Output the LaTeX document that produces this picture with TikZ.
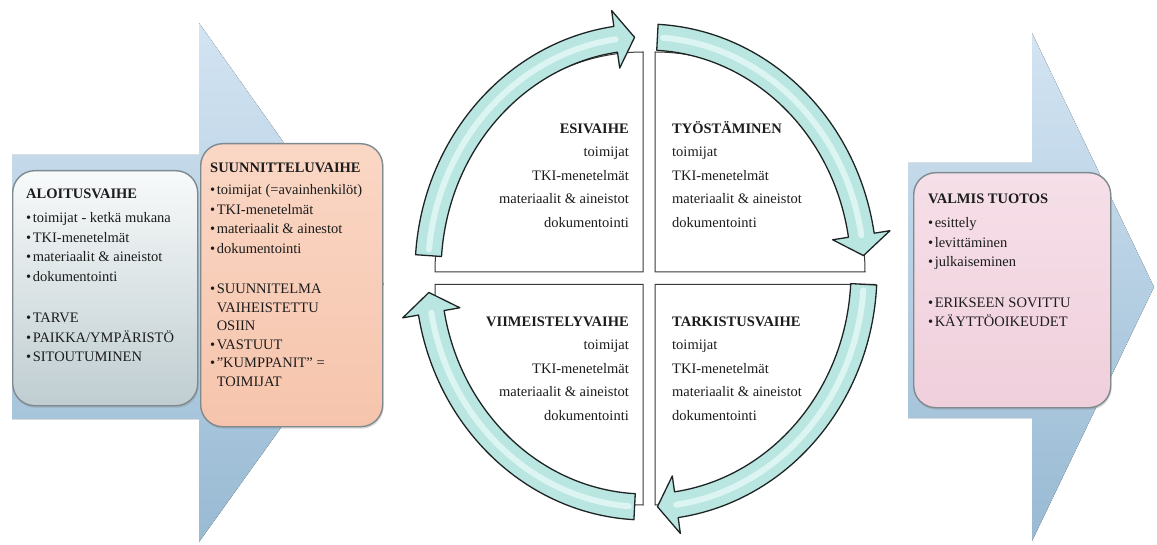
\documentclass[tikz,border=0pt]{standalone}
\usepackage{fontspec}
\setmainfont{Liberation Serif}
\usepackage{tikz}
\usetikzlibrary{shadows}

\definecolor{arrowtop}{HTML}{D3E4F2}
\definecolor{arrowbot}{HTML}{98BAD3}
\definecolor{boxline}{HTML}{7E8A8E}
\definecolor{alotop}{HTML}{F8FAFA}
\definecolor{alobot}{HTML}{BFCDD1}
\definecolor{suutop}{HTML}{FAD7C5}
\definecolor{suubot}{HTML}{F6C4AC}
\definecolor{valtop}{HTML}{F6DFE8}
\definecolor{valbot}{HTML}{EFCFDB}
\definecolor{cycfill}{HTML}{B9E6E1}
\definecolor{cyclight}{HTML}{DDF5F2}
\definecolor{cycline}{HTML}{1E2424}
\definecolor{quadline}{HTML}{3A3A3A}
\definecolor{textcol}{HTML}{1C1C1C}

\newcommand{\itemdot}{\textbullet\hspace{1.5pt}}
\newcommand{\itemgap}{\hphantom{\itemdot}}
\newcommand{\lineprop}{\rule{0pt}{13pt}}
% circular arrow: #1 tail angle, #2 tip angle (clockwise)
\newcommand{\cycarrow}[2]{%
  \pgfmathsetmacro{\hb}{#2+5}%
  \pgfmathsetmacro{\ta}{#1-1.5}%
  \draw[cyc] (#1:231 and 248) arc[start angle=#1, end angle=\hb, x radius=231pt, y radius=248pt]
    -- (\hb:247 and 264) -- (#2:218 and 235) -- (\hb:189 and 206)
    -- (\hb:205 and 222) arc[start angle=\hb, end angle=#1, x radius=205pt, y radius=222pt] -- cycle;
  \draw[cychl] (\ta:218 and 235) arc[start angle=\ta, end angle=\hb, x radius=218pt, y radius=235pt];}

\begin{document}
\begin{tikzpicture}[x=1pt,y=1pt]
  \tikzstyle{bigarrow} = [draw=none, top color=arrowtop, bottom color=arrowbot]
  \tikzstyle{phase} = [rounded corners=22pt, draw=boxline, line width=1.4pt, anchor=north west, drop shadow={shadow xshift=1pt, shadow yshift=-2pt, opacity=0.3}]
  \tikzstyle{txt} = [inner sep=0pt, align=left, anchor=north west, text=textcol, font=\fontsize{14.5}{19.5}\selectfont]
  \tikzstyle{qtxt} = [inner sep=0pt, text=textcol, font=\fontsize{14.5}{23.5}\selectfont]
  \tikzstyle{quad} = [draw=quadline, fill=white, line width=1pt]
  \tikzstyle{cyc} = [draw=cycline, fill=cycfill, line width=1.3pt, line join=round]
  \tikzstyle{cychl} = [draw=cyclight, line width=6pt, line cap=round]
  \useasboundingbox (0,0) rectangle (1157,-545);

  % big background arrows
  \fill[bigarrow] (12,-155) -- (199,-155) -- (199,-23) -- (384,-284) -- (199,-542) -- (199,-419) -- (12,-419) -- cycle;
  \fill[bigarrow] (908,-163) -- (1032,-163) -- (1032,-33) -- (1154,-287) -- (1032,-541) -- (1032,-418) -- (908,-418) -- cycle;

  % phase boxes
  \node[phase, top color=alotop, bottom color=alobot, minimum width=185, minimum height=235] (alo) at (12,-170) {};
  \node[phase, top color=suutop, bottom color=suubot, minimum width=182, minimum height=283] (suu) at (200,-143) {};
  \node[phase, top color=valtop, bottom color=valbot, minimum width=197, minimum height=235] (val) at (913,-172) {};

  \node[txt] (alotext) at (26,-185) {\lineprop\textbf{ALOITUSVAIHE}\\[5pt]
    \itemdot toimijat - ketkä mukana\\
    \itemdot TKI-menetelmät\\
    \itemdot materiaalit \& aineistot\\
    \itemdot dokumentointi\\[22pt]
    \itemdot TARVE\\
    \itemdot PAIKKA/YMPÄRISTÖ\\
    \itemdot SITOUTUMINEN};
  \node[txt] (suutext) at (210,-159) {\lineprop\textbf{SUUNNITTELUVAIHE}\\[3pt]
    \itemdot toimijat (=avainhenkilöt)\\
    \itemdot TKI-menetelmät\\
    \itemdot materiaalit \& ainestot\\
    \itemdot dokumentointi\\[21pt]
    \itemdot SUUNNITELMA\\[-1pt]
    \itemgap VAIHEISTETTU\\[-1pt]
    \itemgap OSIIN\\[-1pt]
    \itemdot VASTUUT\\[-1pt]
    \itemdot "KUMPPANIT" =\\[-1pt]
    \itemgap TOIMIJAT};
  \node[txt] (valtext) at (928,-190) {\lineprop\textbf{VALMIS TUOTOS}\\[5pt]
    \itemdot esittely\\
    \itemdot levittäminen\\
    \itemdot julkaiseminen\\[21pt]
    \itemdot ERIKSEEN SOVITTU\\
    \itemdot KÄYTTÖOIKEUDET};

  % cycle quadrants
  \begin{scope}[shift={(649,-278)}]
    \draw[quad] (-6,6) -- (-214,6) arc[start angle=180, end angle=90, x radius=208pt, y radius=220pt] -- cycle;
    \draw[quad] (6,6) -- (6,226) arc[start angle=90, end angle=0, x radius=210pt, y radius=220pt] -- cycle;
    \draw[quad] (6,-6.5) -- (226,-6.5) arc[start angle=0, end angle=-90, x radius=220pt, y radius=220.5pt] -- cycle;
    \draw[quad] (-6,-6.5) -- (-6,-227) arc[start angle=270, end angle=180, x radius=208pt, y radius=220.5pt] -- cycle;
  \end{scope}
  \begin{scope}[shift={(646,-272)}]
    \cycarrow{176}{93}
    \cycarrow{87}{4}
    \cycarrow{-3}{-87}
    \cycarrow{267}{185}
  \end{scope}

  \node[qtxt, anchor=north east, align=right] (esi) at (629,-120) {\lineprop\textbf{ESIVAIHE}\\
    toimijat\\ TKI-menetelmät\\ materiaalit \& aineistot\\ dokumentointi};
  \node[qtxt, anchor=north west, align=left] (tyo) at (672,-120) {\lineprop\textbf{TYÖSTÄMINEN}\\
    toimijat\\ TKI-menetelmät\\ materiaalit \& aineistot\\ dokumentointi};
  \node[qtxt, anchor=north east, align=right] (vii) at (629,-313) {\lineprop\textbf{VIIMEISTELYVAIHE}\\
    toimijat\\ TKI-menetelmät\\ materiaalit \& aineistot\\ dokumentointi};
  \node[qtxt, anchor=north west, align=left] (tar) at (672,-313) {\lineprop\textbf{TARKISTUSVAIHE}\\
    toimijat\\ TKI-menetelmät\\ materiaalit \& aineistot\\ dokumentointi};
\end{tikzpicture}
\end{document}
